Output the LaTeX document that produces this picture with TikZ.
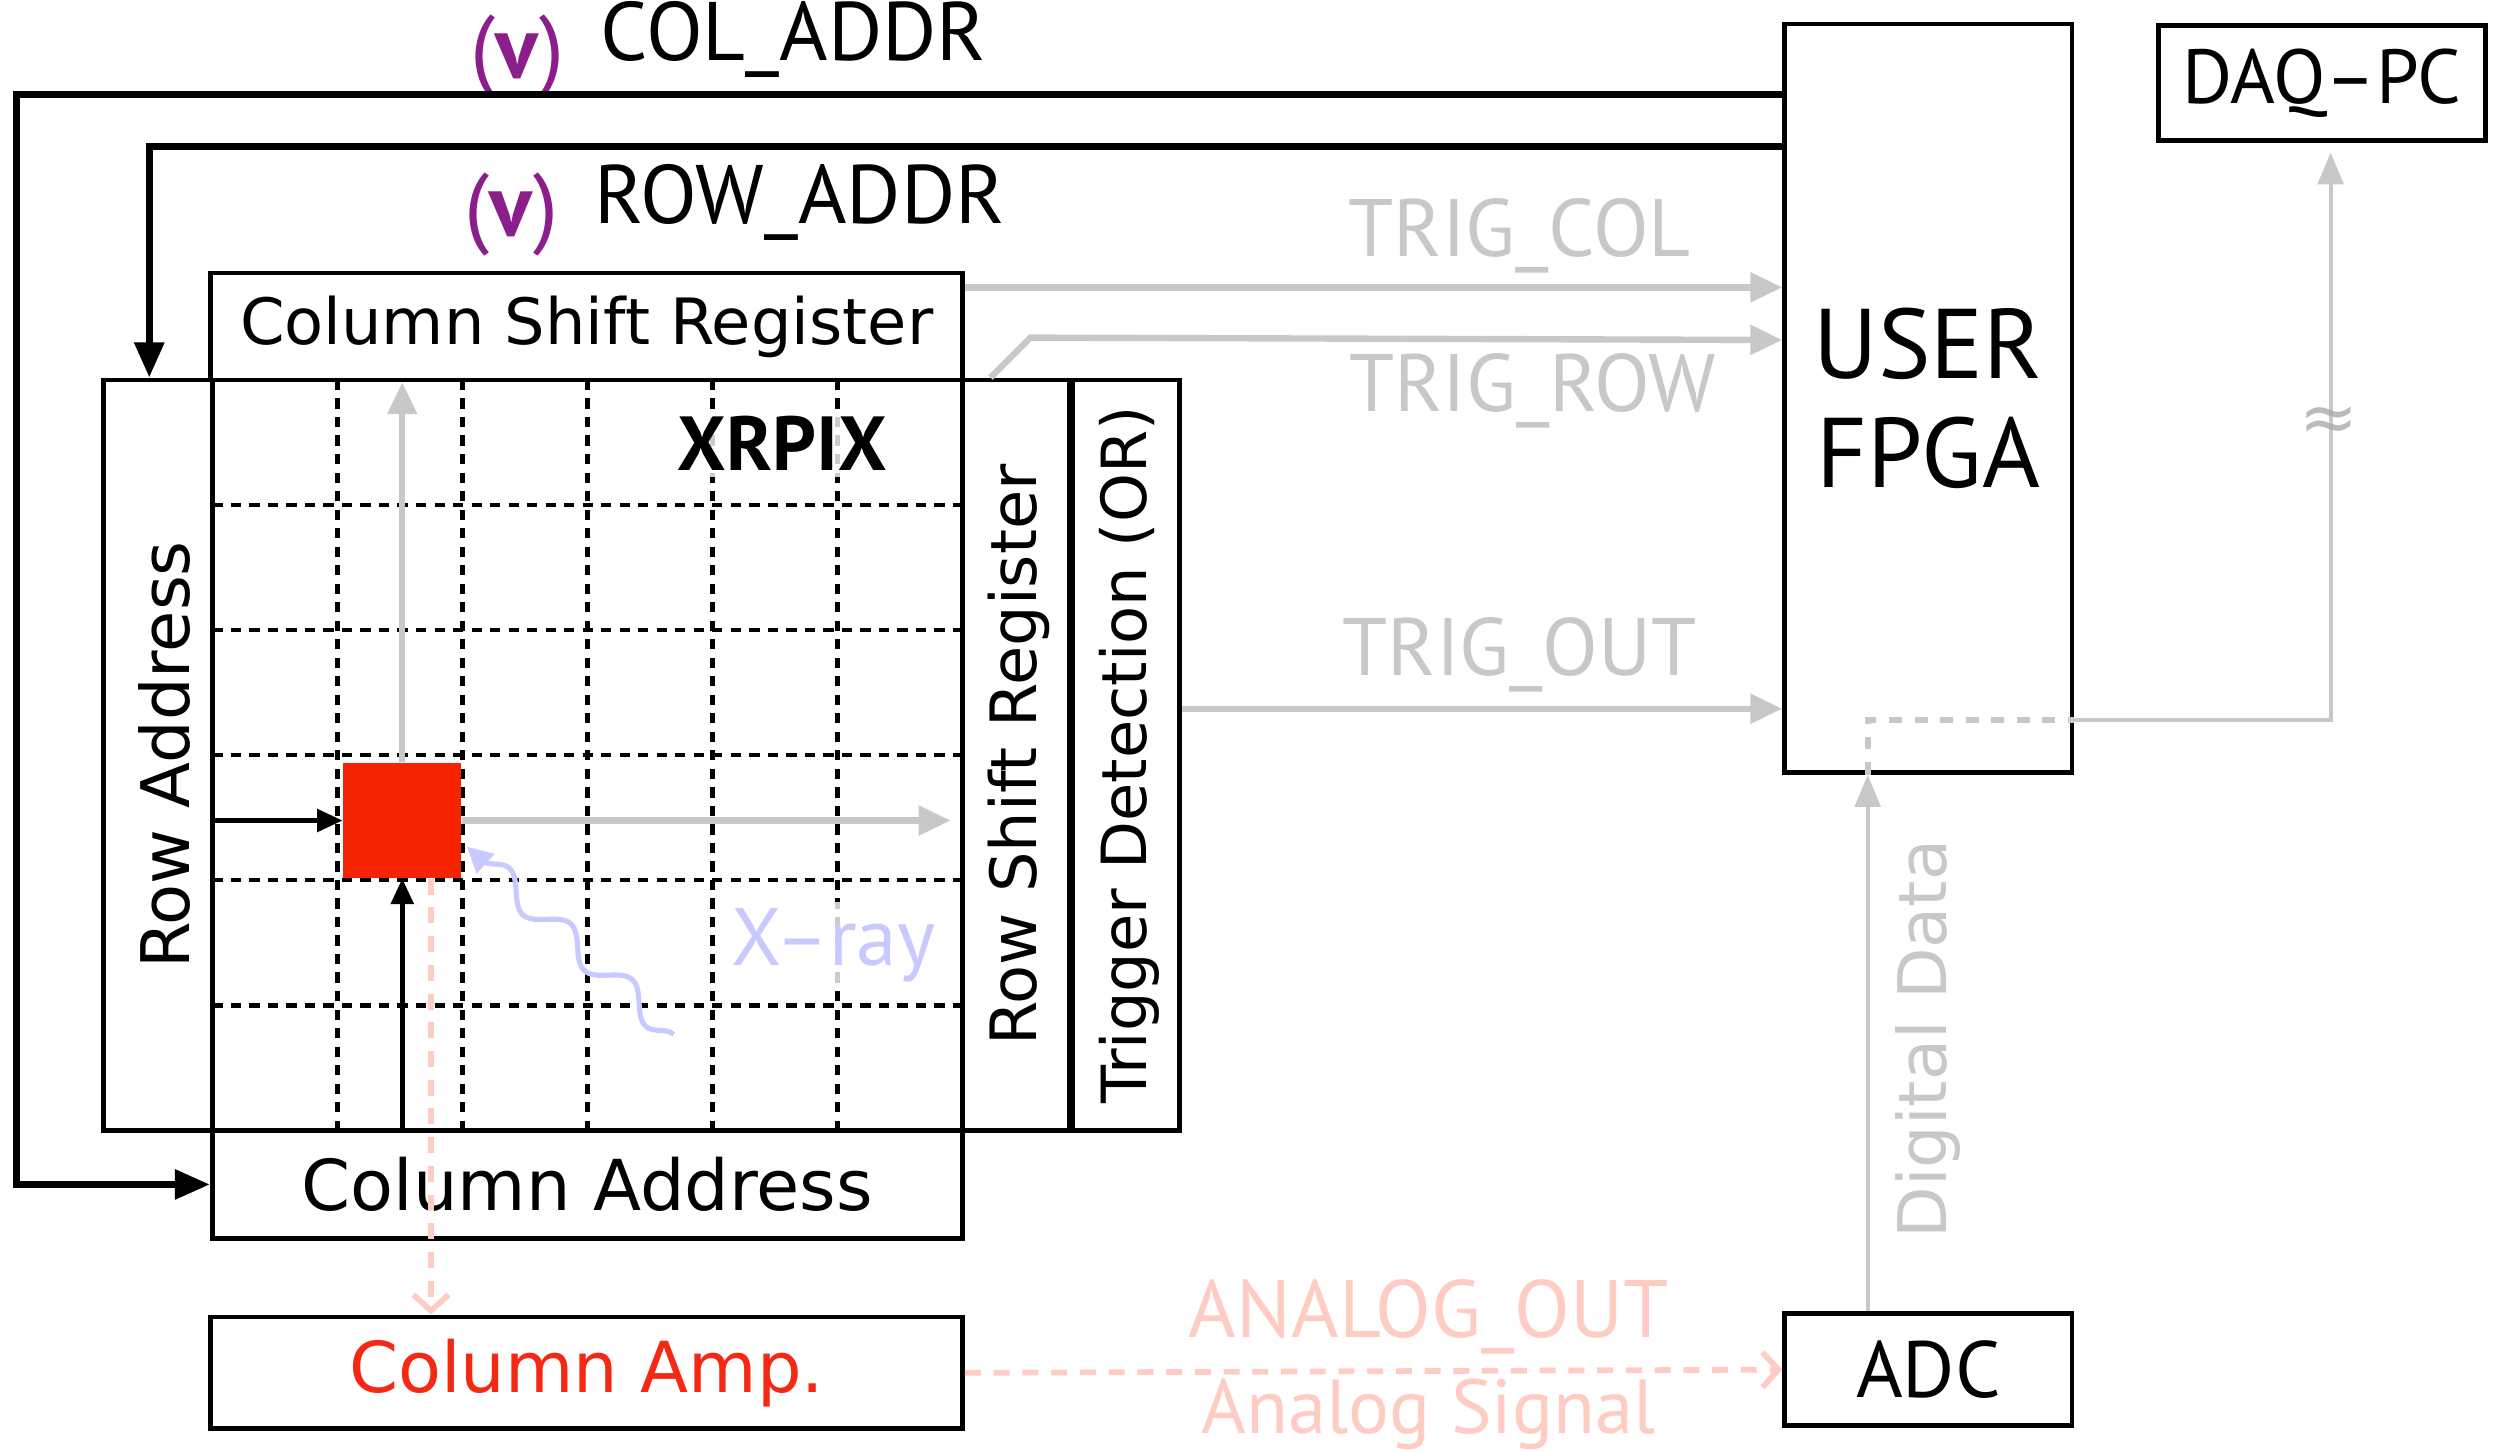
\documentclass[tikz,border=0pt]{standalone}
\usepackage{fontspec}
\setmainfont{DejaVu Sans}
\newfontfamily\narrowfont{PT Sans}
\usetikzlibrary{arrows.meta,decorations.pathmorphing,positioning}
\definecolor{siggray}{RGB}{200,200,200}
\definecolor{pinksig}{RGB}{255,204,196}
\definecolor{xblue}{RGB}{200,202,255}
\definecolor{vpurple}{RGB}{140,30,140}
\definecolor{pixred}{RGB}{245,35,0}
\definecolor{ampred}{RGB}{245,40,20}
\tikzset{
    box/.style={draw, line width=1.5pt, inner sep=0pt},
    boxtxt/.style={font=\fontsize{20}{24}\selectfont},
    lbl/.style={font=\narrowfont\fontsize{26}{30}\selectfont, inner sep=0pt},
    sig/.style={font=\narrowfont\fontsize{25.5}{30}\selectfont, text=siggray, inner sep=0pt},
    vmark/.style={font=\narrowfont\fontsize{28}{32}\selectfont, text=vpurple, inner sep=0pt},
    cellline/.style={line width=1.5pt, dash pattern=on 3.2pt off 2.6pt},
    ctl/.style={line width=2.2pt, -{Triangle[length=11pt,width=9pt]}},
    trig/.style={draw=siggray, line width=2pt, -{Triangle[length=10pt,width=9pt]}},
    ptr/.style={line width=1.5pt, -{Triangle[length=8pt,width=7pt]}},
    analog/.style={draw=pinksig, line width=1.8pt, dash pattern=on 5pt off 4pt, -{Straight Barb[length=5pt,width=11pt]}},
    data/.style={draw=siggray, line width=1.3pt, -{Triangle[length=10pt,width=8pt]}},
    datadash/.style={draw=siggray, line width=2pt, dash pattern=on 4pt off 4pt},
    xray/.style={draw=xblue, line width=1.6pt, decorate, decoration={snake, amplitude=4pt, segment length=26pt, post length=6pt}, -{Triangle[length=8pt,width=8pt]}}
}
\begin{document}
\begin{tikzpicture}[x=0.5pt,y=-0.5pt]
\useasboundingbox (0,0) rectangle (1568,909);

\def\cell{\fpeval{470/6}}
\foreach \k in {0,...,6}
{
    \draw[cellline] (\fpeval{133+\k*\cell},238) -- (\fpeval{133+\k*\cell},708);
    \draw[cellline] (133,\fpeval{238+\k*\cell}) -- (603,\fpeval{238+\k*\cell});
}

\node[fill=pixred, minimum width=37pt, minimum height=36pt, inner sep=0pt] (pixel) at (252,514) {};
\node[font=\narrowfont\bfseries\fontsize{24}{28}\selectfont, fill=white, fill opacity=0.8, text opacity=1, inner sep=2pt] (xrpixlbl) at (490,278) {XRPIX};

\node[box, boxtxt, minimum width=235.5pt, minimum height=33.5pt] (colshift) at (367.5,204.5) {Column Shift Register};
\node[box, minimum width=34pt, minimum height=235pt] (rowaddr) at (99,473) {};
\node[rotate=90, font=\fontsize{21}{25}\selectfont] at ([xshift=2pt]rowaddr) {Row Address};
\node[box, minimum width=33.5pt, minimum height=235pt] (rowshift) at (636.5,473) {};
\node[rotate=90, boxtxt] at ([xshift=1pt]rowshift) {Row Shift Register};
\node[box, minimum width=33.5pt, minimum height=235pt] (trigdet) at (705.5,473) {};
\node[rotate=90, font=\fontsize{19.5}{23}\selectfont] at ([xshift=1pt]trigdet) {Trigger Detection (OR)};
\node[box, font=\fontsize{22}{26}\selectfont, minimum width=235pt, minimum height=34pt] (coladdr) at (368,742) {Column Address};
\node[box, font=\fontsize{22}{26}\selectfont, text=ampred, minimum width=235.5pt, minimum height=35pt] (colamp) at (367.5,860) {Column Amp.};
\node[box, font=\narrowfont\fontsize{25}{29}\selectfont, minimum width=90pt, minimum height=35pt] (adc) at (1208,858) {ADC};
\node[box, font=\narrowfont\fontsize{31}{34}\selectfont, align=center, minimum width=90pt, minimum height=234.5pt] (fpga) at (1208,249.5) {USER\\FPGA};
\node[box, font=\narrowfont\fontsize{24}{28}\selectfont, minimum width=102.5pt, minimum height=36pt] (daqpc) at (1454.5,52) {DAQ–PC};

\node[lbl] (coladdrlbl) at (497,25) {COL\_ADDR};
\node[vmark, anchor=base east] at ([shift={(-11pt,-5.5pt)}]coladdrlbl.base west) {(\textbf{v})};
\node[lbl] (rowaddrlbl) at (501,127) {ROW\_ADDR};
\node[vmark, anchor=base east] at ([shift={(-11pt,-4pt)}]rowaddrlbl.base west) {(\textbf{v})};

\node[sig] (trigcollbl) at (952,148) {TRIG\_COL};
\node[sig] (trigrowlbl) at (960,245) {TRIG\_ROW};
\node[sig] (trigoutlbl) at (952,410) {TRIG\_OUT};
\node[sig, text=pinksig] (analogoutlbl) at (895,825) {ANALOG\_OUT};
\node[sig, text=pinksig, font=\narrowfont\fontsize{24}{28}\selectfont, anchor=base] (analogsiglbl) at (895,898) {Analog Signal};
\node[sig, text=xblue, fill=white, fill opacity=0.8, text opacity=1, inner sep=2pt] (xraylbl) at (522,592) {X–ray};
\node[rotate=90, text=siggray, font=\fontsize{21}{25}\selectfont] (digilbl) at (1208,651) {Digital Data};

\draw[ctl] (fpga.west |- 0,59) -| ([xshift=-60.5pt]coladdr.west) -- (coladdr.west);
\draw[ctl] (fpga.west |- 0,92) -| ([xshift=15pt]rowaddr.north west);

\draw[trig] (colshift.east |- 0,180) -- (fpga.west |- 0,180);
\draw[trig] ([xshift=-8pt]rowshift.north) -- ++(25,-25) -- (fpga.west |- 0,213);
\draw[trig] (trigdet.east |- 0,444) -- (fpga.west |- 0,444);
\draw[trig] (pixel.north) -- (pixel.north |- colshift.south);
\draw[trig] (pixel.east) -- ([xshift=-3pt]rowshift.west |- pixel.east);

\draw[ptr] (rowaddr.east |- pixel.west) -- (pixel.west);
\draw[ptr] (coladdr.north -| pixel.south) -- (pixel.south);

\draw[analog] ([xshift=9pt]pixel.south) -- ([xshift=9pt]pixel.south |- colamp.north);
\draw[analog] (colamp.east) -- (adc.west);

\coordinate (xsrc) at (422,648);
\draw[xray] (xsrc) -- ([shift={(1.5pt,10pt)}]pixel.south east);

\draw[data] (adc.north -| 1170,0) -- (fpga.south -| 1170,0);
\draw[datadash] (fpga.south -| 1170,0) -- (1170,451) -- (fpga.east |- 0,451);
\draw[data, shorten >=3pt] (fpga.east |- 0,451) -| (daqpc.south -| 1460,0);
\node[text=siggray!85!black, text opacity=0.8, inner sep=0pt, font=\fontsize{22}{22}\selectfont] (breakmark) at (1459,266) {≈};

\end{tikzpicture}
\end{document}
